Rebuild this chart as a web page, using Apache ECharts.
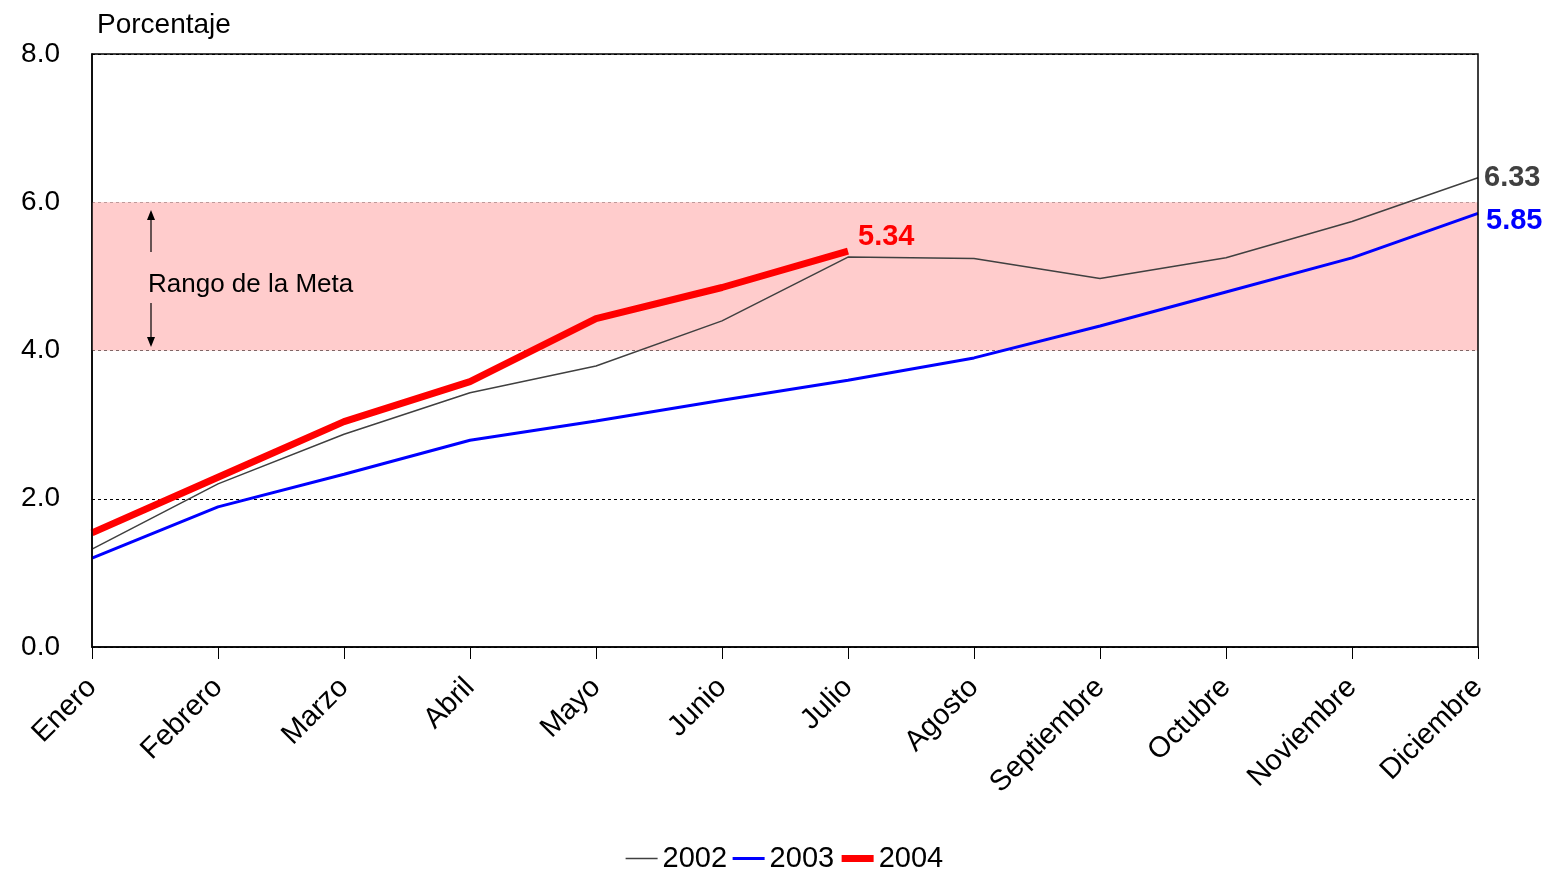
<!DOCTYPE html>
<html><head><meta charset="utf-8">
<script src="https://cdn.jsdelivr.net/npm/echarts@6/dist/echarts.min.js"></script>
<style>html,body{margin:0;background:#fff}#c{width:1568px;height:876px}</style>
</head><body><div id="c"></div>
<script>
const months=['Enero','Febrero','Marzo','Abril','Mayo','Junio','Julio','Agosto','Septiembre','Octubre','Noviembre','Diciembre'];
const s2002=[1.32,2.20,2.87,3.43,3.79,4.40,5.26,5.24,4.97,5.25,5.74,6.33];
const s2003=[1.20,1.89,2.33,2.79,3.05,3.33,3.60,3.90,4.33,4.79,5.25,5.85];
const s2004=[1.54,2.29,3.04,3.58,4.43,4.85,5.34];
const ff='Liberation Sans, Arial, sans-serif';
const chart=echarts.init(document.getElementById('c'));
function endLabel(color,off){return {show:true,fontSize:29,fontWeight:'bold',color:color,fontFamily:ff,distance:6,offset:off,
  formatter:p=>(Array.isArray(p.value)?p.value[1]:p.value).toFixed(2)}}
chart.setOption({
  animation:false,
  grid:{left:92,right:90,top:54,bottom:229},
  title:{text:'Porcentaje',left:92,top:6,textStyle:{fontSize:28,fontWeight:'normal',color:'#000',fontFamily:ff}},
  legend:{bottom:-2,itemWidth:32,itemHeight:14,itemGap:4,textStyle:{fontSize:29,color:'#000',fontFamily:ff},
    itemStyle:{opacity:0},data:[{name:'2002',lineStyle:{width:1.5}},{name:'2003',lineStyle:{width:3}},{name:'2004',lineStyle:{width:7}}]},
  xAxis:{type:'category',data:months,boundaryGap:false,
    axisLine:{lineStyle:{color:'#000',width:1.5}},axisTick:{show:true,length:12,lineStyle:{color:'#000'},alignWithLabel:true},
    axisLabel:{rotate:45,fontSize:29,color:'#000',fontFamily:ff,margin:36,interval:0},splitLine:{show:false}},
  yAxis:{type:'value',min:0,max:8,interval:2,
    axisLine:{show:true,lineStyle:{color:'#000',width:1.5}},axisTick:{show:false},
    axisLabel:{fontSize:28,color:'#000',fontFamily:ff,formatter:v=>v.toFixed(1),margin:32},
    splitLine:{show:true,lineStyle:{color:'#000',type:[3,3],width:1}}},
  graphic:[
    {type:'rect',shape:{x:92,y:54,width:1386,height:593},style:{fill:'none',stroke:'#000',lineWidth:1.5},z:10},
    {type:'text',left:148,top:272,style:{text:'Rango de la Meta',fontSize:26,fill:'#000',fontFamily:ff},z:10},
    {type:'line',shape:{x1:151,y1:252,x2:151,y2:214},style:{stroke:'#000',lineWidth:1.2},z:10},
    {type:'polygon',shape:{points:[[151,210],[147,220],[155,220]]},style:{fill:'#000'},z:10},
    {type:'line',shape:{x1:151,y1:303,x2:151,y2:342},style:{stroke:'#000',lineWidth:1.2},z:10},
    {type:'polygon',shape:{points:[[151,347],[147,337],[155,337]]},style:{fill:'#000'},z:10}
  ],
  series:[
    {name:'2002',type:'line',data:s2002,symbol:'none',
      lineStyle:{color:'#404040',width:1.5},itemStyle:{color:'#404040'},z:3,endLabel:endLabel('#404040',[0,0]),
      markArea:{silent:true,itemStyle:{color:'#FFCCCC'},data:[[{yAxis:4},{yAxis:6}]]}},
    {name:'2003',type:'line',data:s2003,symbol:'none',
      lineStyle:{color:'#0000FF',width:3},itemStyle:{color:'#0000FF'},z:4,endLabel:endLabel('#0000FF',[2,8])},
    {name:'2004',type:'line',data:s2004,symbol:'none',
      lineStyle:{color:'#FF0000',width:7},itemStyle:{color:'#FF0000'},z:5,endLabel:endLabel('#FF0000',[4,-14])}
  ]
});
</script></body></html>
